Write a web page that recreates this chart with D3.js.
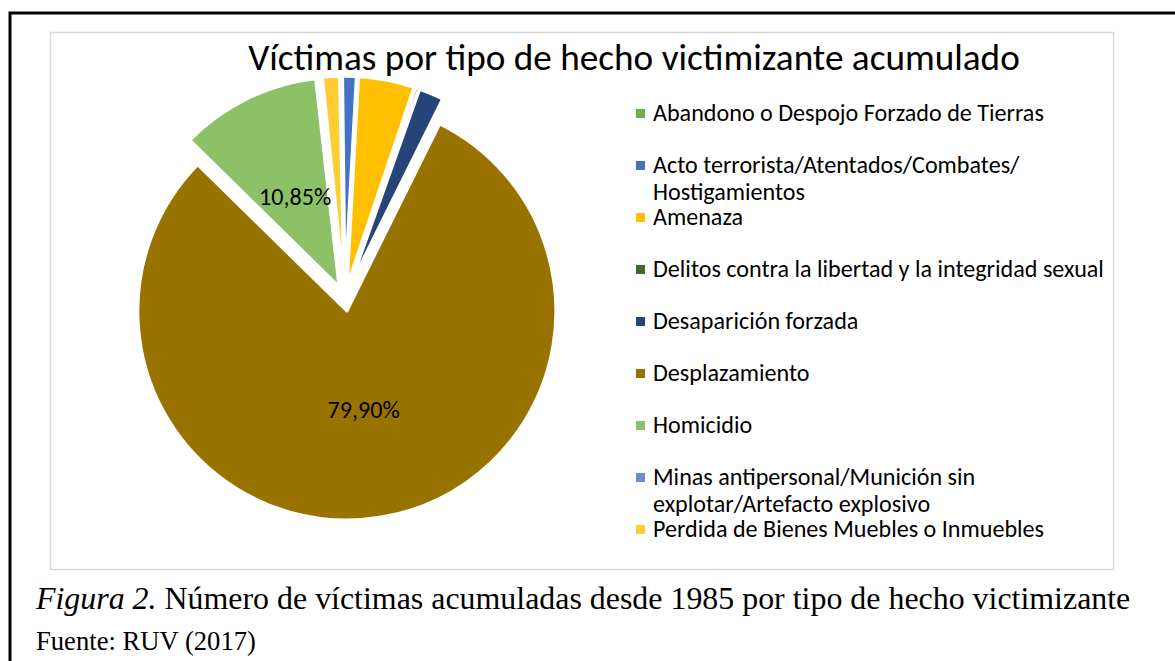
<!DOCTYPE html>
<html>
<head>
<meta charset="utf-8">
<script src="https://cdn.jsdelivr.net/npm/d3@7"></script>
<style>
  html, body { margin: 0; padding: 0; background: #fff; }
  svg { display: block; }
</style>
</head>
<body>
<svg id="chart" width="1175" height="661"></svg>
<script>
// ---------- data ----------
const categories = [
  "Abandono o Despojo Forzado de Tierras",
  "Acto terrorista/Atentados/Combates/ Hostigamientos",
  "Amenaza",
  "Delitos contra la libertad y la integridad sexual",
  "Desaparición forzada",
  "Desplazamiento",
  "Homicidio",
  "Minas antipersonal/Munición sin explotar/Artefacto explosivo",
  "Perdida de Bienes Muebles o Inmuebles"
];
const legendLines = [
  ["Abandono o Despojo Forzado de Tierras"],
  ["Acto terrorista/Atentados/Combates/", "Hostigamientos"],
  ["Amenaza"],
  ["Delitos contra la libertad y la integridad sexual"],
  ["Desaparición forzada"],
  ["Desplazamiento"],
  ["Homicidio"],
  ["Minas antipersonal/Munición sin", "explotar/Artefacto explosivo"],
  ["Perdida de Bienes Muebles o Inmuebles"]
];
const percentages = [0.15, 1.05, 4.3, 0.25, 1.9, 79.90, 10.85, 0.15, 1.3];
const labeled = ["Desplazamiento", "Homicidio"];
const colors = ["#70AD47", "#4472C4", "#FFC000", "#43682B", "#264478",
                "#997300", "#8CC168", "#698ED0", "#FFCD33"];
const titleText = "Víctimas por tipo de hecho victimizante acumulado";
const captionItalic = "Figura 2.";
const captionRest = " Número de víctimas acumuladas desde 1985 por tipo de hecho victimizante";
const sourceText = "Fuente: RUV (2017)";

// ---------- drawing ----------
const svg = d3.select("#chart");
const sansFont = "Carlito, Calibri, Lato, sans-serif";
const serifFont = "'Liberation Serif', 'Times New Roman', serif";

function fitWidth(sel, target) {
  const w = sel.node().getComputedTextLength();
  const fs = parseFloat(sel.attr("font-size"));
  sel.attr("font-size", fs * target / w);
}

// outer frame (open at right/bottom, cropped)
svg.append("path")
  .attr("d", "M10,661 L10,13 L1175,13")
  .attr("fill", "none").attr("stroke", "#000").attr("stroke-width", 3);

// chart area border
svg.append("rect")
  .attr("x", 50.5).attr("y", 32.5).attr("width", 1063).attr("height", 537)
  .attr("fill", "#fff").attr("stroke", "#d9d9d9").attr("stroke-width", 1.5);

// title
const title = svg.append("text")
  .attr("x", 634).attr("y", 70).attr("text-anchor", "middle")
  .attr("font-family", sansFont).attr("font-size", 32).attr("fill", "#000")
  .text(titleText);
fitWidth(title, 772);

// pie
const cx = 344.7, cy = 298.2, radius = 209, explode = 13;
const startDeg = -1.2;
const data = categories.map((c, i) => ({ name: c, value: percentages[i], color: colors[i] }));
const pie = d3.pie().value(d => d.value).sort(null)
  .startAngle(startDeg * Math.PI / 180)
  .endAngle((startDeg + 360) * Math.PI / 180);
const arc = d3.arc().innerRadius(0).outerRadius(radius);
const arcs = pie(data);

const g = svg.append("g").attr("transform", `translate(${cx},${cy})`);
const slices = g.selectAll("g.slice").data(arcs).join("g")
  .attr("class", "slice")
  .attr("transform", d => {
    const a = (d.startAngle + d.endAngle) / 2;
    return `translate(${explode * Math.sin(a)},${-explode * Math.cos(a)})`;
  });
slices.append("path")
  .attr("d", arc)
  .attr("fill", d => d.data.color)
  .attr("stroke", "#fff").attr("stroke-width", 3).attr("stroke-linejoin", "round");

const fmt = v => d3.format(".2f")(v).replace(".", ",") + "%";
slices.filter(d => labeled.includes(d.data.name)).append("text")
  .attr("x", d => { const a = (d.startAngle + d.endAngle) / 2; return radius * 0.48 * Math.sin(a); })
  .attr("y", d => { const a = (d.startAngle + d.endAngle) / 2; return -radius * 0.48 * Math.cos(a); })
  .attr("dy", "0.35em")
  .attr("text-anchor", "middle")
  .attr("font-family", sansFont).attr("font-size", 19).attr("fill", "#000")
  .text(d => fmt(d.data.value));

// legend
const legendX = 636, legendY0 = 113.5, legendStep = 52, lineH = 27;
const leg = svg.append("g");
const items = leg.selectAll("g").data(data).join("g")
  .attr("transform", (d, i) => `translate(${legendX},${legendY0 + i * legendStep})`);
items.append("rect")
  .attr("x", 0).attr("y", -4.5).attr("width", 9).attr("height", 9)
  .attr("fill", d => d.color);
const legTexts = items.append("text")
  .attr("x", 17).attr("y", 7.5)
  .attr("font-family", sansFont).attr("font-size", 19).attr("fill", "#000");
legTexts.each(function(d, i) {
  const t = d3.select(this);
  legendLines[i].forEach((ln, j) => {
    t.append("tspan").attr("x", 17).attr("dy", j === 0 ? 0 : lineH).text(ln);
  });
});
// fit legend font size to the widest line
const probe = svg.append("text").attr("font-family", sansFont).attr("font-size", 19)
  .text(legendLines[3][0]);
const probeW = probe.node().getComputedTextLength();
probe.remove();
const legFs = 19 * 451 / probeW;
legTexts.attr("font-size", legFs);
slices.selectAll("text").attr("font-size", legFs);

// caption
const cap = svg.append("text")
  .attr("x", 36).attr("y", 609)
  .attr("font-family", serifFont).attr("font-size", 27).attr("fill", "#000");
cap.append("tspan").attr("font-style", "italic").text(captionItalic);
cap.append("tspan").text(captionRest);
fitWidth(cap, 1095);

const src = svg.append("text")
  .attr("x", 36).attr("y", 650)
  .attr("font-family", serifFont).attr("font-size", 21).attr("fill", "#000")
  .text(sourceText);
fitWidth(src, 220);
</script>
</body>
</html>
